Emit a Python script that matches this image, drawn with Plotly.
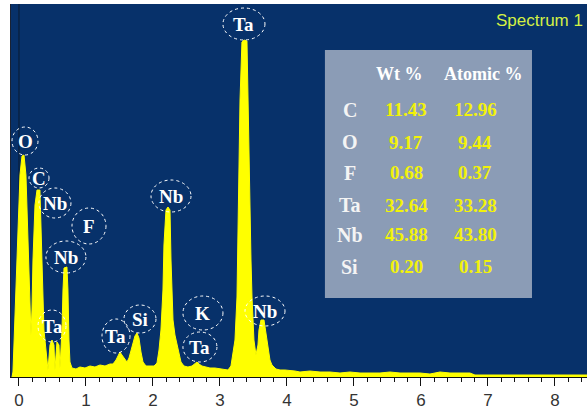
import plotly.graph_objects as go

# ---- spectrum data (energy keV, counts) ----
energy_kev = [
    -0.104, -0.090, -0.075, -0.045, -0.015, 0.015, 0.045, 0.075, 0.104, 0.134,
    0.164, 0.179, 0.194, 0.209, 0.239, 0.269, 0.313, 0.328, 0.343, 0.373,
    0.403, 0.433, 0.463, 0.493, 0.522, 0.537, 0.567, 0.597, 0.612, 0.642,
    0.657, 0.672, 0.716, 0.731, 0.746, 0.761, 0.791, 0.851, 0.910, 0.985,
    1.060, 1.134, 1.209, 1.284, 1.358, 1.403, 1.448, 1.478, 1.507, 1.537,
    1.582, 1.612, 1.642, 1.687, 1.731, 1.761, 1.791, 1.821, 1.851, 1.896,
    1.955, 2.015, 2.060, 2.090, 2.119, 2.149, 2.164, 2.194, 2.224, 2.254,
    2.269, 2.299, 2.328, 2.358, 2.388, 2.418, 2.463, 2.522, 2.582, 2.627,
    2.657, 2.687, 2.731, 2.791, 2.851, 2.925, 3.000, 3.075, 3.119, 3.164,
    3.194, 3.224, 3.254, 3.269, 3.284, 3.299, 3.328, 3.358, 3.403, 3.433,
    3.463, 3.478, 3.507, 3.537, 3.567, 3.582, 3.612, 3.657, 3.687, 3.716,
    3.746, 3.776, 3.836, 3.896, 3.970, 4.119, 4.194, 4.343, 4.493, 4.642,
    4.791, 4.940, 5.090, 5.239, 5.388, 5.537, 5.687, 5.836, 5.985, 6.134,
    6.284, 6.433, 6.582, 6.731, 6.806, 7.030, 8.478,
]
counts = [
    0, 5, 32, 87, 147, 202, 221, 222, 202, 137,
    67, 42, 67, 117, 172, 187, 187, 147, 97, 47,
    27, 7, 32, 37, 32, 7, 35, 32, 9, 47,
    87, 109, 110, 87, 37, 15, 9, 8, 10, 9,
    11, 10, 12, 11, 13, 13, 17, 22, 25, 22,
    17, 15, 19, 29, 41, 44, 39, 25, 15, 11,
    11, 11, 14, 27, 47, 87, 132, 167, 170, 167,
    117, 57, 42, 32, 22, 15, 11, 10, 11, 13,
    15, 13, 11, 10, 9, 9, 8, 7, 7, 11,
    22, 37, 80, 137, 214, 277, 335, 337, 336, 214,
    117, 80, 37, 22, 32, 47, 57, 57, 42, 27,
    17, 12, 8, 7, 7, 6, 5, 6, 5, 5,
    4, 5, 4, 4, 4, 5, 4, 4, 4, 3,
    5, 4, 4, 4, 2, 2, 2,
]

# ---- peak labels (text, energy keV, counts) ----
peak_labels = ["Ta", "O", "C", "Nb", "F", "Nb", "Ta", "Ta", "Si", "Nb", "K", "Ta", "Nb"]
peak_label_kev = [3.358, 0.090, 0.299, 0.537, 1.045, 0.701, 0.493, 1.448, 1.806, 2.269, 2.746, 2.701, 3.672]
peak_label_cts = [353, 236, 199, 174, 151, 120, 51, 41, 58, 181, 64, 30, 66]

# ---- quantification table ----
elements = ["C", "O", "F", "Ta", "Nb", "Si"]
wt_pct = ["11.43", "9.17", "0.68", "32.64", "45.88", "0.20"]
atomic_pct = ["12.96", "9.44", "0.37", "33.28", "43.80", "0.15"]
x_ticks = [0, 1, 2, 3, 4, 5, 6, 7, 8]

NAVY = "#07316a"
YELLOW = "#ffff00"
SERIF = "Liberation Serif, Times New Roman, serif"
SANS = "Liberation Sans, Arial, sans-serif"

fig = go.Figure()
fig.add_trace(go.Scatter(
    x=energy_kev, y=counts, mode="lines", fill="tozeroy",
    fillcolor=YELLOW, line=dict(color=YELLOW, width=1),
    hoverinfo="skip", showlegend=False,
))

# ellipse sizes (pixels)
ell_rx = [21, 13, 10, 16, 17, 20, 14, 14, 16, 20, 20, 17, 20]
ell_ry = [16, 14, 10, 15, 18, 16, 16, 17, 14, 16, 17, 15, 15]

shapes = []
annotations = []
for t, xk, yc, rx, ry in zip(peak_labels, peak_label_kev, peak_label_cts, ell_rx, ell_ry):
    shapes.append(dict(
        type="circle", xref="x", yref="y", xsizemode="pixel", ysizemode="pixel",
        xanchor=xk, yanchor=yc, x0=-rx, x1=rx, y0=-ry, y1=ry,
        line=dict(color="white", width=1, dash="dot"), layer="above",
    ))
    annotations.append(dict(
        x=xk, y=yc, xref="x", yref="y", text="<b>%s</b>" % t, showarrow=False,
        font=dict(family=SERIF, size=19, color="white"),
        xanchor="center", yanchor="middle",
    ))

# table background
shapes.append(dict(
    type="rect", xref="paper", yref="paper", x0=0.545, x1=0.9045, y0=0.212, y1=0.877,
    fillcolor="#8b9cb6", line=dict(color="#8b9cb6", width=0), layer="above",
))
# y axis line at 0 keV
shapes.append(dict(
    type="line", xref="x", yref="paper", x0=0, x1=0, y0=0, y1=1,
    line=dict(color="#0a1a30", width=1), layer="below",
))


def txt(x, y, s, size, color, family=SERIF, xanchor="center"):
    return dict(x=x, y=y, xref="paper", yref="paper", text=s, showarrow=False,
                xanchor=xanchor, yanchor="middle",
                font=dict(family=family, size=size, color=color))


header_y = 0.812
annotations.append(txt(0.675, header_y, "<b>Wt %</b>", 18, "white"))
annotations.append(txt(0.819, header_y, "<b>Atomic %</b>", 18, "white"))
row_y = [0.716, 0.630, 0.547, 0.461, 0.381, 0.295]
for el, w, a, ry_ in zip(elements, wt_pct, atomic_pct, row_y):
    annotations.append(txt(0.588, ry_, "<b>%s</b>" % el, 20, "#f4f4f4"))
    annotations.append(txt(0.686, ry_, "<b>%s</b>" % w, 19, "#f2f20a"))
    annotations.append(txt(0.806, ry_, "<b>%s</b>" % a, 19, "#f2f20a"))

annotations.append(txt(0.9965, 0.957, "Spectrum 1", 17, "#d4f044", family=SANS, xanchor="right"))

fig.update_layout(
    width=587, height=412,
    margin=dict(l=11, r=0, t=4, b=35),
    paper_bgcolor="white", plot_bgcolor=NAVY,
    shapes=shapes, annotations=annotations,
    xaxis=dict(
        range=[-0.119, 8.478], tickvals=x_ticks, ticktext=[str(v) for v in x_ticks],
        ticks="outside", ticklen=8, tickwidth=1, tickcolor="#111",
        showline=True, linecolor="#111", linewidth=1,
        showgrid=False, zeroline=False,
        tickfont=dict(family=SANS, size=17, color="#333"),
        minor=dict(dtick=0.2, tick0=0, ticks="outside", ticklen=4, tickcolor="#111", showgrid=False),
    ),
    yaxis=dict(
        range=[0, 373], showticklabels=False, ticks="", showgrid=False, zeroline=False,
        showline=True, linecolor="#1a2233", linewidth=1,
    ),
)

fig.write_html(
    "out.html",
    config={"displayModeBar": False},
    post_script="document.body.style.margin='0';document.body.style.overflow='hidden';",
)
